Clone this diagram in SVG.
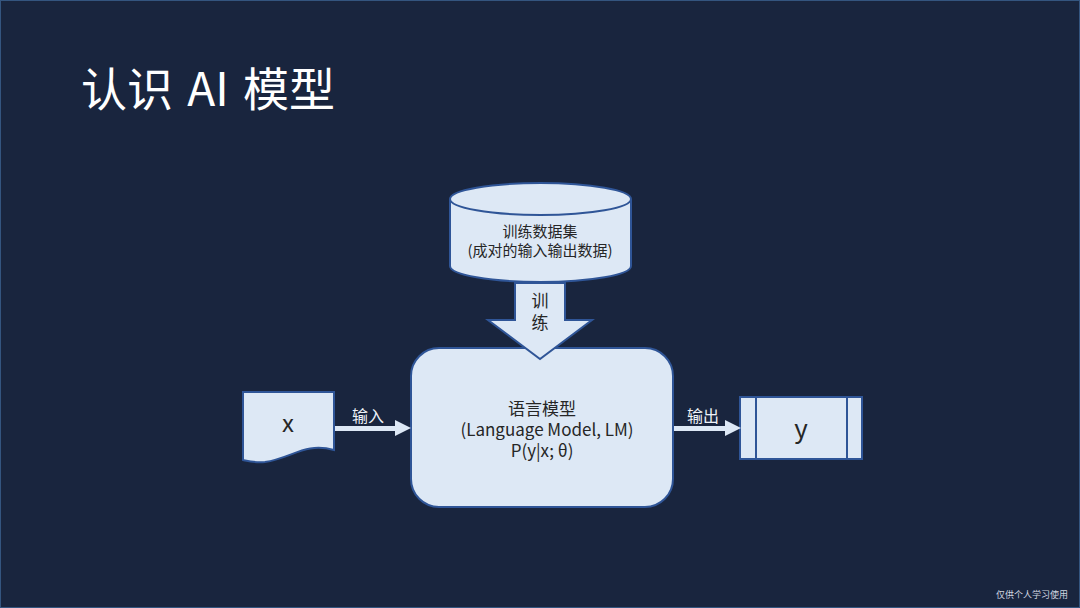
<svg xmlns="http://www.w3.org/2000/svg" width="1080" height="608" viewBox="0 0 1080 608">
<style>
.bg{fill:#19253e}
.node{fill:#dde8f5;stroke:#2f5597;stroke-width:2}
.cjk{font-family:"Noto Sans CJK SC","Noto Sans",sans-serif}
.dark{fill:#262626}
.lab{fill:#eef2f8}
.conn{fill:#dde8f5}
</style>
<rect class="bg" x="0" y="0" width="1080" height="608"/>
<rect x="0.5" y="0.5" width="1079" height="607" fill="none" stroke="#34557f" stroke-width="1"/>
<text class="cjk" x="81" y="106" font-size="46" fill="#ffffff" word-spacing="4">认识 AI 模型</text>

<g id="dataset">
<path class="node" d="M450,199 V266 A90.5,16 0 0 0 631,266 V199 A90.5,16 0 0 0 450,199 Z"/>
<path d="M450,199 A90.5,16 0 0 0 631,199" fill="none" stroke="#2f5597" stroke-width="2"/>
<text class="cjk dark" x="540" y="237" font-size="15" text-anchor="middle">训练数据集</text>
<text class="cjk dark" x="540" y="256" font-size="15" text-anchor="middle">(成对的输入输出数据)</text>
</g>

<g id="lm">
<rect class="node" x="411" y="348" width="262" height="159" rx="28" ry="28"/>
<text class="cjk dark" x="542" y="415" font-size="17" text-anchor="middle">语言模型</text>
<text class="cjk dark" x="547" y="436" font-size="17" text-anchor="middle">(Language Model, LM)</text>
<text class="cjk dark" x="542" y="457" font-size="17" text-anchor="middle">P(y|x; θ)</text>
</g>

<g id="train-arrow">
<path class="node" d="M515,283 H565 V320 H592 L540,359 L488,320 H515 Z"/>
<text class="cjk dark" x="540" y="307" font-size="17" text-anchor="middle">训</text>
<text class="cjk dark" x="540" y="329" font-size="17" text-anchor="middle">练</text>
</g>

<g id="x">
<path class="node" d="M243,392 H334 V450 C305,442 292,458 265,462 C255,463 248,461 243,460 Z"/>
<text class="cjk dark" x="288" y="432" font-size="24" text-anchor="middle">x</text>
</g>

<g id="y">
<rect class="node" x="740" y="397" width="122" height="62"/>
<line x1="756" y1="397" x2="756" y2="459" stroke="#2f5597" stroke-width="2"/>
<line x1="847" y1="397" x2="847" y2="459" stroke="#2f5597" stroke-width="2"/>
<text class="cjk dark" x="801" y="438" font-size="26" text-anchor="middle">y</text>
</g>

<g id="connectors">
<path class="conn" d="M335,426 H395 V420 L411,428 L395,436 V431 H335 Z"/>
<text class="cjk lab" x="368" y="422" font-size="16" text-anchor="middle">输入</text>
<path class="conn" d="M674,426 H725 V420 L741,428 L725,436 V431 H674 Z"/>
<text class="cjk lab" x="703" y="422" font-size="16" text-anchor="middle">输出</text>
</g>

<text class="cjk" x="1068" y="598" font-size="9" fill="#d0d6e0" text-anchor="end">仅供个人学习使用</text>
</svg>
